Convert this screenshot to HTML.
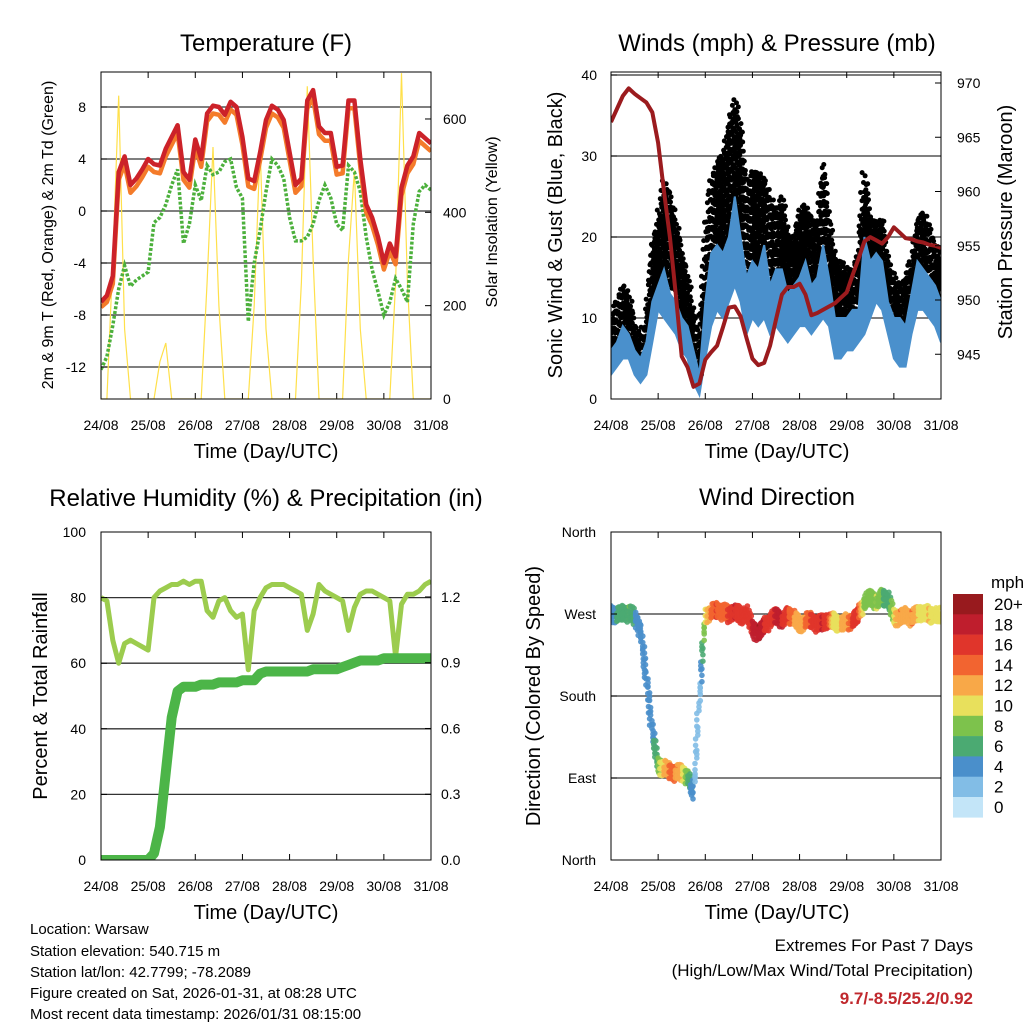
<!DOCTYPE html>
<html><head><meta charset="utf-8">
<style>
html,body{margin:0;padding:0;background:#fff;}
svg{display:block;font-family:"Liberation Sans",sans-serif;}
.t{font-size:24px;text-anchor:middle;}
.ax{font-size:20px;text-anchor:middle;}
.tk{font-size:14px;}
.ft{font-size:15px;}
</style></head>
<body>
<svg id="chart" width="1024" height="1024" viewBox="0 0 1024 1024">
<defs>
<clipPath id="c1"><rect x="101" y="72" width="330" height="327"/></clipPath>
<clipPath id="c2"><rect x="611" y="72" width="330" height="327"/></clipPath>
<clipPath id="c3"><rect x="101" y="532" width="330" height="328"/></clipPath>
<clipPath id="c4"><rect x="611" y="532" width="330" height="328"/></clipPath>
</defs>
<text class="t" x="266" y="51">Temperature (F)</text>
<text class="t" x="777" y="51">Winds (mph) &amp; Pressure (mb)</text>
<text class="t" x="266" y="506">Relative Humidity (%) &amp; Precipitation (in)</text>
<text class="t" x="777" y="505">Wind Direction</text>

<text class="ax" x="266" y="458">Time (Day/UTC)</text>
<text class="ax" x="777" y="458">Time (Day/UTC)</text>
<text class="ax" x="266" y="919">Time (Day/UTC)</text>
<text class="ax" x="777" y="919">Time (Day/UTC)</text>

<text style="font-size:16px;text-anchor:middle" transform="translate(53,235) rotate(-90)">2m &amp; 9m T (Red, Orange) &amp; 2m Td (Green)</text>
<text style="font-size:16px;text-anchor:middle" transform="translate(497,222) rotate(-90)">Solar Insolation (Yellow)</text>
<text class="ax" transform="translate(562,235) rotate(-90)">Sonic Wind &amp; Gust (Blue, Black)</text>
<text class="ax" transform="translate(1012,222) rotate(-90)">Station Pressure (Maroon)</text>
<text class="ax" transform="translate(47,696) rotate(-90)">Percent &amp; Total Rainfall</text>
<text class="ax" transform="translate(540,696) rotate(-90)">Direction (Colored By Speed)</text>

<g class="ft">
<text x="30" y="934">Location: Warsaw</text>
<text x="30" y="956">Station elevation: 540.715 m</text>
<text x="30" y="977">Station lat/lon: 42.7799; -78.2089</text>
<text x="30" y="998">Figure created on Sat, 2026-01-31, at 08:28 UTC</text>
<text x="30" y="1019">Most recent data timestamp: 2026/01/31 08:15:00</text>
</g>
<g style="font-size:17px;text-anchor:end">
<text x="973" y="951">Extremes For Past 7 Days</text>
<text x="973" y="976">(High/Low/Max Wind/Total Precipitation)</text>
<text x="973" y="1004" style="fill:#c0282d;font-weight:bold">9.7/-8.5/25.2/0.92</text>
</g>
<g id="layer"></g>
</svg>
<script>
const xLabels=["24/08","25/08","26/08","27/08","28/08","29/08","30/08","31/08"];
const tempRed=[-7,-6.5,-5,3,4.2,2,2.5,3.2, 4,3.6,3.5,4.8,5.7,6.6,3,2.4, 5.5,4,7.5,8.1,8,7.4,8.4,8, 5.7,2.5,2.3,4.5,7,8.1,7.8,7, 4.5,2,2.5,8.5,9.3,6.5,6,6, 3.4,3.5,8.5,8.5,4,0.5,-0.5,-2, -4,-2.5,-3.5,1.8,3.5,4.2,6,5.6, 5.2];
const tempOrange=[-7.4,-7,-5.6,2.4,3.6,1.4,1.9,2.6, 3.4,3,2.9,4.2,5.1,6,2.4,1.8, 4.9,3.4,6.9,7.5,7.4,6.8,7.8,7.4, 5.1,1.9,1.7,3.9,6.4,7.5,7.2,6.4, 3.9,1.4,1.9,7.9,8.7,5.9,5.4,5.4, 2.8,2.9,7.9,7.9,3.4,-0.1,-1.1,-2.6, -4.5,-3.1,-4.1,1.2,2.9,3.6,5.4,5, 4.6];
const dewpoint=[-12.2,-11.2,-8.8,-6,-4.2,-5.8,-5.3,-5, -4.7,-0.9,-0.5,0.5,2,3.2,-2.5,-1, 2,0.8,3.5,2.8,3,3.8,4,1.8, 1,-8.5,-4,-1.5,1.5,4,3.5,2.5, -0.5,-2.3,-2.3,-2,-1,0.8,2,1, -1,-1.5,3.5,3,1.5,-2,-4.5,-6.2, -8,-7,-5.2,-6,-7,-1,1.5,2, 1.6];
const solar=[0,0,300,650,150,0,0,0, 0,0,80,120,0,0,0,0, 0,0,250,540,200,0,0,0, 0,0,200,540,150,0,0,0, 0,0,250,670,300,0,0,0, 0,0,300,490,150,0,0,0, 0,0,250,698,250,0,0,0, 0];
const windLo=[3,4,5,5,3,2,3,7, 11,10,9,8,6,5,2,0.5, 5,9,11,10,12,14,12,8, 10,9,10,8,9,8,7,8, 9,9,8,9,10,9,5,5, 6,6,7,8,10,12,11,8, 5,4,4,8,11,11,10,9, 7];
const windHi=[6,7,9,8,6,5,7,12, 14,16,13,12,10,9,6,3, 12,18,19,18,20,25,20,15, 17,16,19,14,16,16,13,14, 15,17,14,15,19,15,10,10, 10,11,11,20,17,18,17,12, 10,10,9,13,17,16,15,14, 12];
const gustLo=[6,7,8,8,6,4,6,10, 14,15,14,13,10,8,4,2, 8,15,17,17,18,22,20,14, 15,15,16,13,14,13,10,12, 13,14,12,13,15,14,9,9, 9,9,11,13,14,15,15,10, 8,8,8,11,15,15,13,12, 10];
const gustHi=[10,12,14,13,9,8,10,19, 22,27,25,22,18,15,10,8, 20,27,29,30,34,37,33,26, 28,28,27,25,23,25,20,20, 23,24,22,22,29,22,17,17, 16,16,18,28,22,22,22,17, 15,14,15,17,22,23,21,19, 18];
const pressure=[966.4,967.6,968.8,969.5,969,968.6,968.2,967.3, 964.5,960,955.8,950.5,944.8,943.8,942,942.3, 944.5,945.2,945.8,947.5,949.3,949.4,948.5,946.5, 944.6,944,944.2,945.8,948.2,950.5,951.2,951.2, 951.5,950.5,948.6,948.8,949.1,949.4,949.7,950.2, 950.7,952.3,953.8,955.4,955.8,955.5,955.2,955.8, 956.7,956.2,955.7,955.6,955.4,955.3,955.1,955, 954.8];
const humidity=[80,79,67,60,66,67,66,65, 64,80,82,83,84,84,85,84, 85,85,76,74,79,80,76,74, 75,58,76,80,83,84,84,84, 83,82,81,70,75,84,82,81, 80,79,70,77,81,82,82,81, 80,79,62,78,81,81,82,84, 85];
const precip=[0,0,0,0,0,0,0,0, 0,0.03,0.15,0.4,0.65,0.77,0.79,0.79, 0.79,0.8,0.8,0.8,0.81,0.81,0.81,0.81, 0.82,0.82,0.82,0.85,0.86,0.86,0.86,0.86, 0.86,0.86,0.86,0.86,0.87,0.87,0.87,0.87, 0.87,0.88,0.89,0.9,0.91,0.91,0.91,0.91, 0.92,0.92,0.92,0.92,0.92,0.92,0.92,0.92, 0.92];
const direction=[272,268,272,270,268,250,200,140, 105,100,98,95,97,90,75,180, 268,272,275,272,270,272,268,270, 255,248,258,262,270,262,270,265, 258,262,264,258,262,262,262,258, 262,262,270,282,290,282,290,285, 268,265,270,265,272,270,270,268, 268];
const dirSpeed=[5,6,7,8,6,4,4,5, 8,12,14,14,12,8,4,3, 10,14,16,14,16,18,16,16, 18,20,18,16,18,18,16,14, 12,14,16,16,18,16,10,12, 12,16,16,8,8,10,8,6, 10,14,12,14,12,10,12,10, 12];
const tempTicks=[-12,-8,-4,0,4,8];
const solarTicks=[0,200,400,600];
const windTicks=[0,10,20,30,40];
const pressTicks=[945,950,955,960,965,970];
const rhTicks=[0,20,40,60,80,100];
const rainTicks=[0,0.3,0.6,0.9,1.2];
const dirTicks=["North","East","South","West","North"];
const speedLabels=["20+","18","16","14","12","10","8","6","4","2","0"];
const speedColors=["#981a1e","#bf1e2d","#e0352b","#f26430","#f8a848","#e8e05c","#7dc24c","#4baa72","#4a8fcb","#82bde6","#c3e5f8"];

const NS="http://www.w3.org/2000/svg";
const layer=document.getElementById('layer');
function mk(tag,attrs,parent){const e=document.createElementNS(NS,tag);for(const k in attrs)e.setAttribute(k,attrs[k]);(parent||layer).appendChild(e);return e;}
const tOf=i=>i/8;
const xA=(x0)=>t=>x0+t*330/7;
const x1=xA(101), x2=xA(611);
const yT=v=>211-13*v, yS=w=>399-w*0.4667;
const yW=v=>399-8.1*v, yP=p=>83+(970-p)*10.85;
const yR=v=>860-3.28*v, yPr=v=>860-219.2*v;
const yD=d=>860-d*328/360;
function pathOf(arr,xf,yf){return arr.map((v,i)=>(i?'L':'M')+xf(tOf(i)).toFixed(1)+','+yf(v).toFixed(1)).join('');}

function frame(x0,y0,w,h,name,grid,yf){
  for(const v of grid){
    const g=mk('line',{x1:x0,x2:x0+w,y1:yf(v),y2:yf(v),stroke:'#333','stroke-width':1.3});
    
    
  }
  for(let d=0;d<=7;d++){
    const xx=x0+d*w/7;
    const tb=mk('line',{x1:xx,x2:xx,y1:y0+h,y2:y0+h-6,stroke:'#000'});
    
    
    const tt=mk('line',{x1:xx,x2:xx,y1:y0,y2:y0+6,stroke:'#000'});
    
    
    const lb=mk('text',{x:xx,y:y0+h+31,'text-anchor':'middle','class':'tk'});
    lb.textContent=xLabels[d];
    
    
  }
}
function frameRect(x0,y0,w,h,name){
  const r=mk('rect',{x:x0,y:y0,width:w,height:h,fill:'none',stroke:'#000','stroke-width':1});
  
  
}
function yLabels(vals,yf,x,anchor,name,fmt,side,x0){
  for(const v of vals){
    const t=mk('text',{x:x,y:yf(v)+5,'text-anchor':anchor,'class':'tk'});
    t.textContent=fmt?fmt(v):v;
    
    
    const tk=mk('line',{x1:x0,x2:x0+side*6,y1:yf(v),y2:yf(v),stroke:'#000'});
    
    
  }
}

/* ---- Panel 1: Temperature ---- */
frame(101,72,330,327,'temp',tempTicks,yT);
const g1=mk('g',{'clip-path':'url(#c1)'});


const sl=mk('path',{d:pathOf(solar,x1,yS),fill:'none',stroke:'#ffe04a','stroke-width':1.2},g1);


const gl=mk('path',{d:pathOf(dewpoint,x1,yT),fill:'none',stroke:'#4cb03c','stroke-width':3.5,'stroke-dasharray':'3,1.8'},g1);


const ol=mk('path',{d:pathOf(tempOrange,x1,yT),fill:'none',stroke:'#f47b2a','stroke-width':4.5,'stroke-linejoin':'round'},g1);


const rl=mk('path',{d:pathOf(tempRed,x1,yT),fill:'none',stroke:'#cc2229','stroke-width':4.5,'stroke-linejoin':'round'},g1);


frameRect(101,72,330,327,'temp');
yLabels(tempTicks,yT,86,'end','temp-y',null,1,101);
yLabels(solarTicks,yS,443,'start','solar-y',null,-1,431);

/* ---- Panel 2: Winds ---- */
frame(611,72,330,327,'wind',windTicks.slice(1),yW);
const g2=mk('g',{'clip-path':'url(#c2)'});


const N=direction.length;
const SUB=4;
const jit=[0,2.1,-1.6,1.2,-2.3,0.7,-0.9,1.8];
function lerp(a,i,f){return a[i]+(a[Math.min(i+1,N-1)]-a[i])*f;}
for(let i=0;i<N-1;i++){
  for(let k=0;k<SUB;k++){
    const f=k/SUB, t=tOf(i+f);
    const lo=lerp(gustLo,i,f), hi=lerp(gustHi,i,f);
    let n=0;
    for(let y=yW(hi);y<=yW(lo);y+=4.6){
      n++;
      const c=mk('circle',{cx:(x2(t)+jit[(n+k*3+i)%8]).toFixed(1),cy:(y+jit[(n*5+k)%8]*0.6).toFixed(1),r:2.5,fill:'#000'},g2);
      
      
    }
  }
}
let bandTop='',bandBot='';
for(let i=0;i<N;i++){bandTop+=(i?'L':'M')+x2(tOf(i)).toFixed(1)+','+yW(windHi[i]).toFixed(1);}
for(let i=N-1;i>=0;i--){bandBot+='L'+x2(tOf(i)).toFixed(1)+','+yW(windLo[i]).toFixed(1);}
const wb=mk('path',{d:bandTop+bandBot+'Z',fill:'#4a90cc',stroke:'#4a90cc','stroke-width':2},g2);


const pl=mk('path',{d:pathOf(pressure,x2,yP),fill:'none',stroke:'#9b1b1e','stroke-width':4,'stroke-linejoin':'round'},g2);


frameRect(611,72,330,327,'wind');
yLabels(windTicks,yW,597,'end','wind-y',null,1,611);
yLabels(pressTicks,yP,957,'start','pressure-y',null,-1,941);

/* ---- Panel 3: RH ---- */
frame(101,532,330,328,'rh',[20,40,60,80],yR);
const g3=mk('g',{'clip-path':'url(#c3)'});


const hl=mk('path',{d:pathOf(humidity,x1,yR),fill:'none',stroke:'#9ccc4e','stroke-width':5,'stroke-linejoin':'round'},g3);


const prl=mk('path',{d:pathOf(precip,x1,yPr),fill:'none',stroke:'#4cb548','stroke-width':10,'stroke-linejoin':'round','stroke-linecap':'round'},g3);


frameRect(101,532,330,328,'rh');
yLabels(rhTicks,yR,86,'end','rh-y',null,1,101);
yLabels(rainTicks,yPr,441,'start','rain-y',v=>v.toFixed(1),-1,431);

/* ---- Panel 4: Direction ---- */
frame(611,532,330,328,'dir',[90,180,270],yD);
const g4=mk('g',{'clip-path':'url(#c4)'});


const DS=8;
for(let i=0;i<N-1;i++){
  for(let k=0;k<DS;k++){
    const f=k/DS, t=tOf(i+f);
    const d=lerp(direction,i,f), s=lerp(dirSpeed,i,f);
    const idx=10-Math.min(10,Math.floor(s/2));
    for(const off of [-7,0,7]){
      const c=mk('circle',{cx:(x2(t)+jit[(k+i)%8]*0.5).toFixed(1),cy:yD(d+off*((k%2)?0.6:1)+jit[(k*3+i)%8]).toFixed(1),r:2.8,fill:speedColors[idx],'fill-opacity':0.9},g4);
      
      
    }
  }
}
frameRect(611,532,330,328,'dir');
dirTicks.forEach((lab,i)=>{
  const y=yD(i*90);
  const t=mk('text',{x:596,y:y+5,'text-anchor':'end','class':'tk'});
  t.textContent=lab;
  
  
  const tk=mk('line',{x1:611,x2:617,y1:y,y2:y,stroke:'#000'});
  
  
});
/* colorbar */
const mph=mk('text',{x:991,y:588,style:'font-size:17px'});
mph.textContent='mph';


speedLabels.forEach((lab,i)=>{
  const y=594+i*20.3;
  const b=mk('rect',{x:953,y:y,width:30,height:20.6,fill:speedColors[i]});
  
  
  const t=mk('text',{x:994,y:y+16,style:'font-size:17px'});
  t.textContent=lab;
  
  
});
</script>
</body></html>
